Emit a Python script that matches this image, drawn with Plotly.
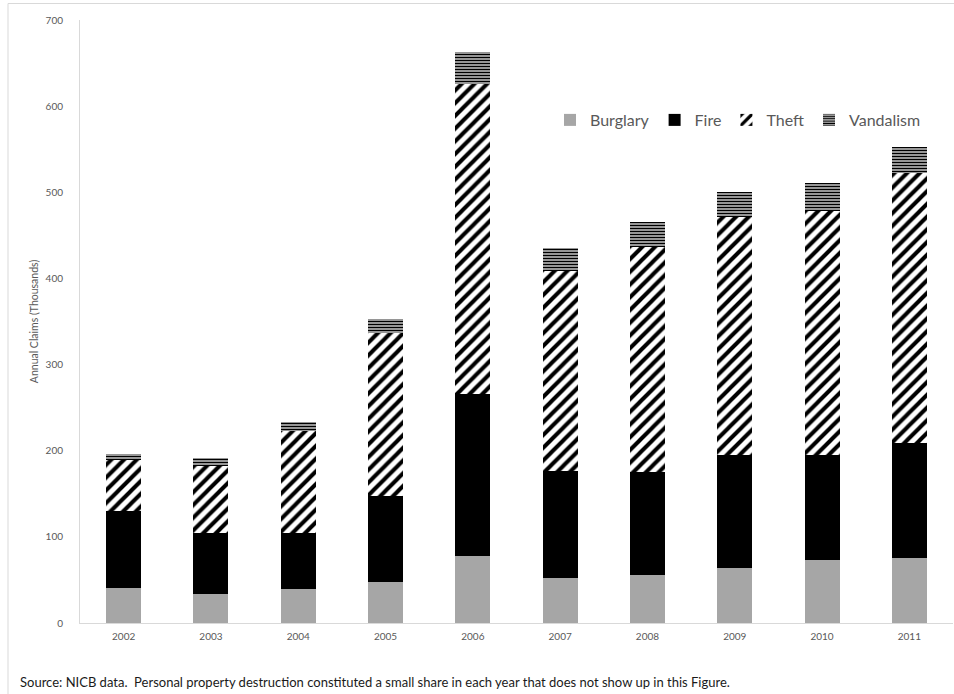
import plotly.graph_objects as go

years = ["2002", "2003", "2004", "2005", "2006", "2007", "2008", "2009", "2010", "2011"]
burglary = [40.5, 34, 40, 48, 78, 52, 56, 64, 73, 76]
fire = [89.5, 70.5, 65, 100, 188, 124, 119, 131, 122, 133]
theft = [59, 77.5, 118, 189, 360, 233, 262, 276, 283, 313]
vandalism = [7, 9.5, 10, 16, 37, 26, 29, 29, 33, 30]
y_ticks = [0, 100, 200, 300, 400, 500, 600, 700]

FONT = "Lato, 'Open Sans', sans-serif"
GRAY = "#595959"

fig = go.Figure()
fig.add_trace(go.Bar(name="Burglary", x=years, y=burglary,
                     marker=dict(color="#a6a6a6", line=dict(width=0))))
fig.add_trace(go.Bar(name="Fire", x=years, y=fire,
                     marker=dict(color="#000000", line=dict(width=0))))
fig.add_trace(go.Bar(name="Theft", x=years, y=theft,
                     marker=dict(color="#000000", line=dict(width=0),
                                 pattern=dict(shape="/", fgcolor="#000000", bgcolor="#ffffff",
                                              fgopacity=1, size=9, solidity=0.45))))
fig.add_trace(go.Bar(name="Vandalism", x=years, y=vandalism,
                     marker=dict(color="#000000", line=dict(width=0),
                                 pattern=dict(shape="-", fgcolor="#000000", bgcolor="#c8c8c8",
                                              fgopacity=1, size=3, solidity=0.5))))

W, H = 954, 694
L, R, T, B = 80, 1, 20, 71
pw, ph = W - L - R, H - T - B

def px(x):
    return (x - L) / pw

def py(y):
    return (H - B - y) / ph

fig.update_layout(
    barmode="stack",
    bargap=0.6,
    width=W, height=H,
    margin=dict(l=L, r=R, t=T, b=B),
    plot_bgcolor="white", paper_bgcolor="white",
    font=dict(family=FONT, color=GRAY, size=10),
    showlegend=True,
    legend=dict(orientation="h", x=px(550), y=py(120), xanchor="left", yanchor="middle",
                font=dict(size=16, color=GRAY, family=FONT), bgcolor="rgba(0,0,0,0)",
                traceorder="normal", itemwidth=30),
    xaxis=dict(showline=True, linecolor="#d9d9d9", linewidth=1, showgrid=False,
               ticks="", tickfont=dict(size=10, color=GRAY), ticklabelstandoff=4),
    yaxis=dict(range=[0, 700], tickvals=y_ticks, showline=True, linecolor="#d9d9d9",
               linewidth=1, showgrid=False, zeroline=False, ticks="",
               tickfont=dict(size=10, color=GRAY), ticklabelstandoff=14,
               title=dict(text="Annual Claims (Thousands)", font=dict(size=10.5, color=GRAY),
                          standoff=4)),
    shapes=[
        dict(type="line", xref="paper", yref="paper", x0=px(8), x1=px(954), y0=py(3.5), y1=py(3.5),
             line=dict(color="#d9d9d9", width=1)),
        dict(type="line", xref="paper", yref="paper", x0=px(8), x1=px(8), y0=py(3.5), y1=py(694),
             line=dict(color="#d9d9d9", width=1)),
    ],
    annotations=[
        dict(text="Source: NICB data.  Personal property destruction constituted a small share in each year that does not show up in this Figure.",
             xref="paper", yref="paper", x=px(18), y=py(682), xanchor="left", yanchor="middle",
             showarrow=False, font=dict(size=13, color="#1a1a1a", family=FONT)),
    ],
)

fig.write_html("out.html", config={"displayModeBar": False},
               post_script="document.body.style.margin='0';document.body.style.overflow='hidden';")
